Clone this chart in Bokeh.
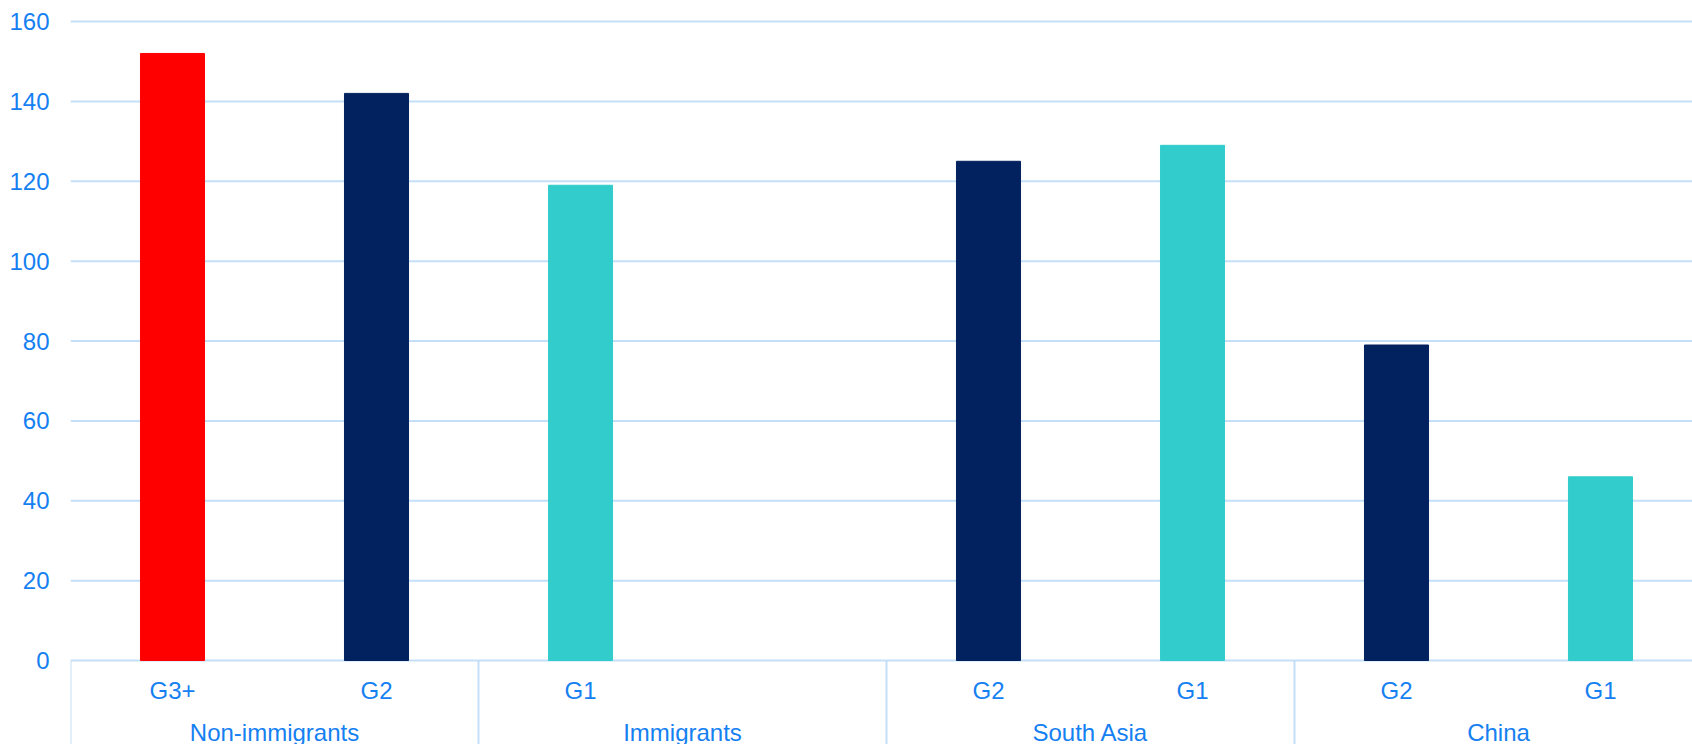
from bokeh.plotting import figure
from bokeh.models import Range1d, FixedTicker, ColumnDataSource
from bokeh.core.properties import value
from bokeh.embed import file_html
from bokeh.resources import INLINE

# ---- data ----
groups = ["Non-immigrants", "Immigrants", "South Asia", "China"]
subgroups = [["G3+", "G2"], ["G1", ""], ["G2", "G1"], ["G2", "G1"]]
values = [[152, 142], [119, None], [125, 129], [79, 46]]
gen_colors = {"G3+": "#FF0000", "G2": "#02215F", "G1": "#33CCCC"}
y_ticks = [0, 20, 40, 60, 80, 100, 120, 140, 160]

TEXT = "#1580F2"
GRID = "#C4DFF8"
FONT = "Liberation Sans"

# flatten into slots
slot_x, slot_lab = [], []
bar_x, bar_top, bar_col = [], [], []
grp_x, sep_x = [], []
i = 0
for g, subs, vals in zip(groups, subgroups, values):
    sep_x.append(i)
    grp_x.append(i + len(subs) / 2)
    for s, v in zip(subs, vals):
        slot_x.append(i + 0.5)
        slot_lab.append(s)
        if v is not None:
            bar_x.append(i + 0.5)
            bar_top.append(v)
            bar_col.append(gen_colors[s])
        i += 1

x_lo, x_hi = 0, 7.951
y_lo, y_hi = -21.03, 165.26
p = figure(frame_width=1622, frame_height=744,
           x_range=Range1d(x_lo, x_hi), y_range=Range1d(y_lo, y_hi),
           output_backend="svg", toolbar_location=None,
           x_axis_location=None,
           min_border_left=70, min_border_right=0,
           min_border_top=0, min_border_bottom=0)
p.outline_line_color = None
p.background_fill_color = "white"
p.border_fill_color = "white"

ax = p.yaxis[0]
ax.ticker = FixedTicker(ticks=y_ticks)
ax.axis_line_color = None
ax.major_tick_line_color = None
ax.minor_tick_line_color = None
ax.major_tick_out = 0
ax.major_tick_in = 0
ax.minor_tick_out = 0
ax.major_label_standoff = 21
ax.major_label_text_font = FONT
ax.major_label_text_font_size = "24px"
ax.major_label_text_color = TEXT

p.xgrid.visible = False
p.ygrid.visible = False

# horizontal gridlines at the y ticks, across the frame
n = len(y_ticks)
p.segment(x0=[x_lo] * n, y0=y_ticks, x1=[x_hi] * n, y1=y_ticks,
          line_color=GRID, line_width=2, level="underlay")

src = ColumnDataSource(dict(x=bar_x, top=bar_top, color=bar_col))
p.vbar(x="x", top="top", bottom=0, width=0.314, color="color", source=src)

# category axis drawn below zero
p.segment(x0=sep_x, y0=[0] * len(sep_x), x1=sep_x, y1=[y_lo] * len(sep_x),
          line_color=GRID, line_width=2)
p.text(x=slot_x, y=[-7.4] * len(slot_x), text=slot_lab,
       text_align="center", text_baseline="alphabetic",
       text_font=value(FONT), text_font_size="24px", text_color=TEXT)
p.text(x=grp_x, y=[-18.1] * len(grp_x), text=groups,
       text_align="center", text_baseline="alphabetic",
       text_font=value(FONT), text_font_size="24px", text_color=TEXT)

open("out.html", "w").write(file_html(p, INLINE))
